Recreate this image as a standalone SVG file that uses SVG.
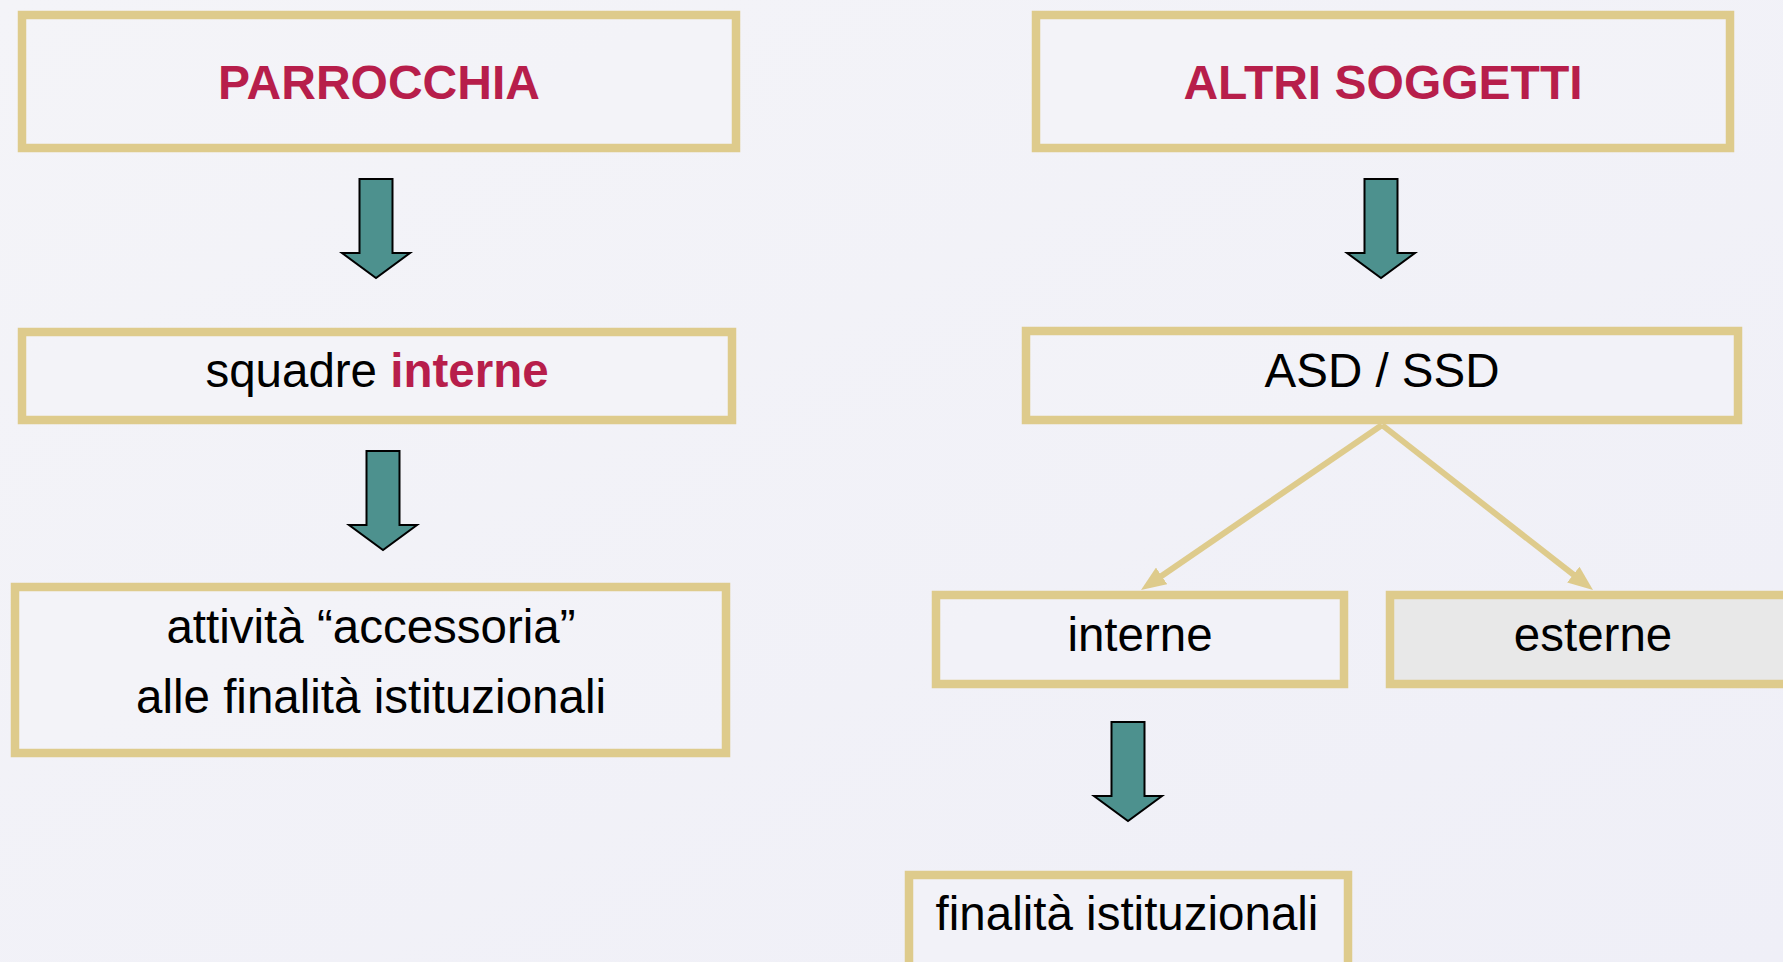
<svg xmlns="http://www.w3.org/2000/svg" width="1783" height="962" viewBox="0 0 1783 962">
  <style>
    .box { fill: #F3F3F8; fill-opacity: 0.6; stroke: #DECB8C; stroke-width: 8.5; }
    .grey { fill: #E8E8E8; fill-opacity: 1; }
    .txt { font-family: "Liberation Sans", Arial, sans-serif; font-size: 47.5px; fill: #000; text-anchor: middle; }
    .title { font-weight: bold; fill: #B71E4B; font-size: 48px; }
    .hl { font-weight: bold; fill: #B71E4B; }
    .conn { stroke: #DECB8C; stroke-width: 6; fill: none; }
    .blk { fill: #4D918E; stroke: #000; stroke-width: 2; stroke-linejoin: miter; }
  </style>
  <defs>
    <linearGradient id="bg" x1="0" y1="0" x2="1" y2="1">
      <stop offset="0" stop-color="#F4F4F8"/>
      <stop offset="1" stop-color="#EFEFF7"/>
    </linearGradient>
    <marker id="ah" markerUnits="userSpaceOnUse" markerWidth="25" markerHeight="20" viewBox="0 0 25 20" refX="1" refY="10" orient="auto">
      <path d="M0,0 L25,10 L0,20 Z" fill="#DECB8C"/>
    </marker>
    <path id="blockArrow" class="blk" d="M-16.5,0 H16.5 V74 H34 L0,99 L-34,74 H-16.5 Z"/>
  </defs>
  <rect x="0" y="0" width="1783" height="962" fill="url(#bg)"/>

  <g id="connectors">
    <use href="#blockArrow" transform="translate(376,179)"/>
    <use href="#blockArrow" transform="translate(383,451)"/>
    <use href="#blockArrow" transform="translate(1381,179)"/>
    <use href="#blockArrow" transform="translate(1128,722)"/>
    <line class="conn" x1="1382" y1="425" x2="1160.8" y2="576.4" marker-end="url(#ah)"/>
    <line class="conn" x1="1382" y1="425" x2="1574.1" y2="575.2" marker-end="url(#ah)"/>
  </g>

  <g id="parrocchia">
    <rect class="box" x="22" y="15" width="714" height="133"/>
    <text class="txt title" x="379" y="99">PARROCCHIA</text>
  </g>
  <g id="altri-soggetti">
    <rect class="box" x="1036" y="15" width="694" height="133"/>
    <text class="txt title" x="1383" y="99">ALTRI SOGGETTI</text>
  </g>
  <g id="squadre-interne">
    <rect class="box" x="22" y="332" width="710" height="88"/>
    <text class="txt" x="377" y="387">squadre <tspan class="hl">interne</tspan></text>
  </g>
  <g id="attivita-accessoria">
    <rect class="box" x="15" y="587" width="711" height="166"/>
    <text class="txt" x="371" y="643">attività “accessoria”</text>
    <text class="txt" x="371" y="713">alle finalità istituzionali</text>
  </g>
  <g id="asd-ssd">
    <rect class="box" x="1026" y="331" width="712" height="89"/>
    <text class="txt" x="1382" y="387">ASD / SSD</text>
  </g>
  <g id="interne">
    <rect class="box" x="936" y="595" width="408" height="89"/>
    <text class="txt" x="1140" y="651">interne</text>
  </g>
  <g id="esterne">
    <rect class="box grey" x="1390" y="595" width="406" height="89"/>
    <text class="txt" x="1593" y="651">esterne</text>
  </g>
  <g id="finalita-istituzionali">
    <rect class="box" x="909" y="875" width="439" height="110"/>
    <text class="txt" x="1127" y="930">finalità istituzionali</text>
  </g>
</svg>
